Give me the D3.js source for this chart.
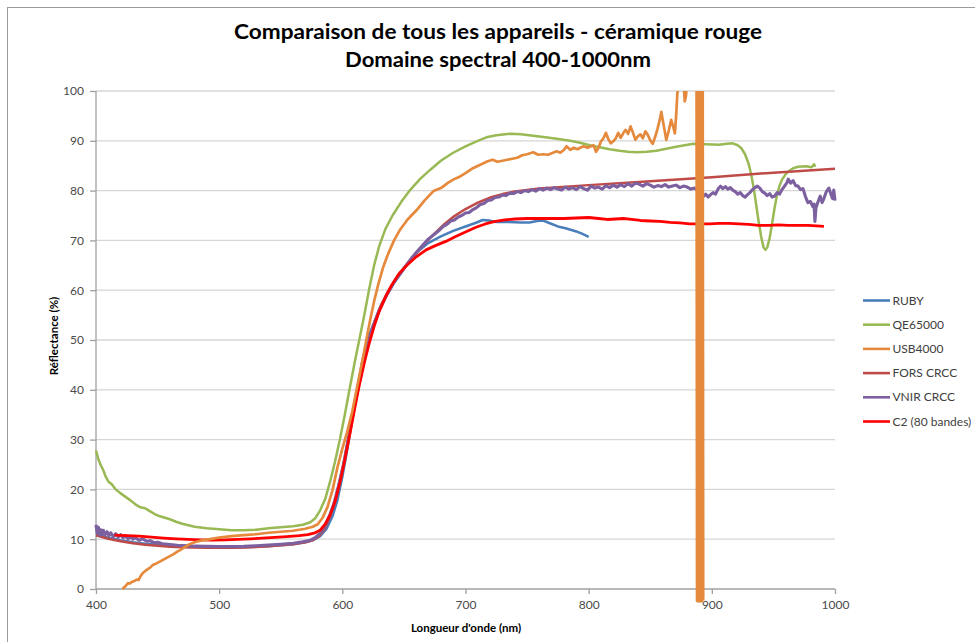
<!DOCTYPE html>
<html>
<head>
<meta charset="utf-8">
<script src="https://cdn.jsdelivr.net/npm/d3@7"></script>
<style>
  html, body { margin: 0; padding: 0; background: #ffffff; }
  svg { display: block; font-family: Lato, "Open Sans", "DejaVu Sans", sans-serif; }
</style>
</head>
<body>
<svg id="chart" width="975" height="642"></svg>
<script>
// Chart text
const titleLines = ["Comparaison de tous les appareils - céramique rouge", "Domaine spectral 400-1000nm"];
const xAxisTitle = "Longueur d'onde (nm)";
const yAxisTitle = "Réflectance (%)";
const xTicks = [400, 500, 600, 700, 800, 900, 1000];
const yTicks = [0, 10, 20, 30, 40, 50, 60, 70, 80, 90, 100];

// Series names and colours (legend order)
const seriesNames = ["RUBY", "QE65000", "USB4000", "FORS CRCC", "VNIR CRCC", "C2 (80 bandes)"];
const seriesColors = ["#4A7EBB", "#98B954", "#E5893C", "#BE4B48", "#7D60A0", "#FF0000"];

// Spectra: [wavelength nm, reflectance %]
const ruby = [[400,11.0],[410,10.3],[420,9.8],[430,9.4],[440,9.1],[450,8.9],[460,8.7],[470,8.6],[480,8.5],[490,8.45],[500,8.4],[510,8.4],[520,8.4],[530,8.5],[540,8.6],[550,8.8],[560,9.0],[570,9.4],[577,9.9],[582,10.6],[587,12.0],[592,14.6],[596,17.8],[600,22.5],[604,28],[608,34],[612,40],[616,45.5],[620,49.8],[625,53],[630,56],[636,59],[642,61.5],[650,64.3],[660,67.5],[670,69.5],[680,70.8],[690,71.9],[700,72.8],[708,73.5],[714,74.1],[719,74.0],[725,73.7],[735,73.7],[745,73.6],[752,73.6],[758,73.9],[763,74.0],[768,73.5],[775,72.8],[782,72.4],[790,71.8],[795,71.3],[800,70.7]];

const qe65000 = [[400,27.8],[402,26.0],[404,24.8],[406,23.8],[408,22.5],[410,21.6],[413,21.0],[416,20.0],[420,19.2],[424,18.5],[428,17.8],[432,17.0],[436,16.4],[440,16.2],[444,15.6],[448,15.0],[452,14.6],[456,14.3],[460,14.0],[465,13.5],[470,13.1],[475,12.8],[480,12.5],[490,12.2],[500,12.0],[510,11.8],[520,11.8],[530,11.9],[540,12.2],[550,12.4],[560,12.6],[568,12.9],[574,13.4],[578,14.2],[582,15.8],[586,18.0],[590,21.5],[594,25.5],[598,30.0],[602,35.0],[606,40.3],[610,45.5],[614,50.3],[618,55.2],[622,60.5],[626,65.2],[630,68.9],[635,72.3],[641,75.1],[648,77.8],[655,80.1],[663,82.3],[671,84.1],[680,86.0],[690,87.6],[700,88.9],[709,89.9],[717,90.7],[725,91.1],[736,91.4],[745,91.3],[755,91.0],[765,90.7],[774,90.4],[785,90.0],[793,89.6],[801,89.1],[809,88.7],[817,88.3],[825,88.0],[832,87.8],[839,87.7],[847,87.8],[855,88.0],[863,88.4],[871,88.8],[878,89.1],[885,89.4],[895,89.3],[906,89.2],[912,89.4],[917,89.5],[921,89.1],[924,88.5],[927,87.3],[930,85.3],[932,83.2],[934,80.5],[936,77.2],[938,73.8],[940,70.8],[942,68.6],[943.5,68.1],[945,68.6],[947,70.5],[949,73.5],[951,76.6],[953,79.2],[955,81.0],[957,82.2],[960,83.3],[963,84.0],[966,84.5],[970,84.8],[977,84.9],[981,84.7],[983,85.3],[984,84.8]];

const usb4000 = [[421.5,0.0],[424,0.6],[426,1.2],[427.5,1.1],[429,1.4],[431,1.6],[433,1.9],[434.5,1.8],[436,2.5],[438,3.2],[440,3.6],[442,4.0],[444,4.3],[446,4.8],[448,5.0],[451,5.4],[454,5.8],[457,6.2],[460,6.6],[463,7.0],[466,7.5],[469,7.9],[472,8.4],[476,9.0],[480,9.4],[485,9.7],[490,9.9],[495,10.1],[500,10.3],[510,10.6],[520,10.8],[530,11.0],[540,11.3],[550,11.5],[560,11.7],[570,12.1],[576,12.5],[580,13.0],[584,14.3],[588,16.5],[592,19.8],[596,24.4],[600,28.2],[604,31.6],[608,35.6],[611,39.3],[614,43.0],[617,46.8],[620,50.7],[623,54.5],[626,58],[629,61],[633,64.5],[637,67.2],[642,70.0],[647,72.2],[653,74.2],[660,76.0],[667,78.1],[674,79.9],[680,80.5],[686,81.6],[690,82.2],[696,82.9],[700,83.5],[706,84.5],[712,85.2],[718,85.9],[722,86.2],[726,85.8],[730,86.0],[734,86.2],[738,86.4],[742,86.6],[746,87.1],[750,87.3],[755,87.7],[759,87.2],[763,87.3],[767,87.2],[771,87.6],[774,87.9],[777,87.6],[780,88.2],[782,88.9],[785,88.2],[788,88.6],[791,88.3],[793,88.6],[796,88.9],[799,88.6],[802,88.9],[804,89.1],[806,87.8],[808,88.6],[810,89.9],[812,90.5],[814,91.6],[816,90.3],[818,89.5],[820,89.9],[822,90.5],[824,91.6],[826,90.6],[828,91.5],[830,92.2],[832,91.4],[834,92.9],[836,91.6],[838,90.2],[840,90.9],[842,91.3],[844,90.5],[846,91.9],[848,91.2],[850,90.1],[852,89.4],[854,90.8],[856,92.5],[858,94.5],[859,95.8],[861,93.0],[863,90.2],[865,92.0],[867,94.2],[869,92.5],[870,91.5],[871,95.0],[872,99.5],[873,101],[875,103],[877,102],[878,97.9],[879,99],[881,106],[884,112],[886,118],[887.5,130],[888,-2.4],[888.5,130],[889,-2.5],[889.5,130],[890,-2.4],[890.5,130],[891,-2.5],[891.5,130],[892,-2.4],[892.5,130],[893,-2.3]];

const forsCrcc = [[400,10.8],[410,10.1],[420,9.6],[430,9.2],[440,8.9],[450,8.7],[460,8.5],[470,8.4],[480,8.35],[490,8.3],[500,8.3],[510,8.3],[520,8.35],[530,8.45],[540,8.6],[550,8.8],[560,9.0],[570,9.4],[576,9.8],[581,10.6],[586,12.2],[590,14.5],[594,17.6],[598,21.8],[602,26.5],[606,31.8],[610,37.2],[614,42.3],[618,46.8],[622,50.5],[626,53.6],[631,56.8],[637,59.7],[644,62.5],[651,64.8],[659,67.2],[667,69.4],[675,71.4],[683,73.3],[691,74.9],[700,76.3],[710,77.6],[720,78.6],[730,79.3],[740,79.8],[750,80.1],[760,80.4],[800,81.1],[850,81.9],[900,82.7],[950,83.6],[1000,84.4]];

const vnirCrcc = [[400,12.9],[401,11.2],[402,12.4],[403,10.8],[404,11.9],[405,11.0],[406,11.8],[407.5,10.9],[409,11.5],[410.5,10.7],[412,11.3],[414,10.5],[416,11.1],[418,10.4],[420,10.9],[422,10.3],[424,10.7],[426,10.1],[428,10.5],[430,10.0],[432,10.3],[435,9.8],[438,10.1],[441,9.6],[444,9.7],[447,9.3],[450,9.4],[454,9.1],[458,9.0],[462,8.9],[466,8.8],[470,8.75],[475,8.7],[480,8.6],[490,8.55],[500,8.5],[510,8.5],[520,8.55],[530,8.7],[540,8.85],[550,9.0],[560,9.2],[568,9.5],[574,9.8],[578,10.3],[582,11.2],[586,12.6],[590,15.0],[593,17.0],[597,20.8],[601,25.0],[605,30.3],[609,35.5],[613,40.5],[617,45.3],[621,49.3],[625,52.7],[630,56.0],[636,59.0],[642,61.6],[649,64.0],[656,66.4],[663,68.4],[670,70.3],[675,71.3],[679,72.1],[682,72.8],[685,73.2],[688,73.9],[691,74.1],[694,74.7],[697,75.0],[700,75.5],[703,75.6],[706,76.2],[709,76.6],[712,77.2],[715,77.4],[718,78.0],[721,78.1],[724,78.6],[727,78.7],[730,79.1],[733,79.0],[736,79.5],[739,79.4],[742,79.8],[745,79.6],[748,80.0],[751,79.8],[754,80.2],[757,79.9],[760,80.4],[763,80.1],[766,80.5],[769,80.2],[772,80.6],[775,80.3],[778,80.1],[781,80.7],[784,80.3],[787,80.6],[790,80.2],[793,80.8],[796,80.4],[799,80.1],[802,80.9],[805,80.5],[808,80.7],[811,80.3],[814,81.0],[817,80.6],[820,81.1],[823,80.7],[826,81.2],[829,80.8],[832,81.4],[835,80.9],[838,81.5],[841,81.3],[844,80.9],[847,81.4],[850,81.1],[853,80.7],[856,81.0],[859,80.8],[862,81.2],[865,80.7],[868,80.9],[871,81.1],[874,80.6],[877,80.9],[880,80.7],[883,80.3],[886,80.5],[889,79.9],[891,79.2],[893,78.8],[895,79.3],[897,78.7],[899,79.2],[901,79.6],[903,79.3],[905,80.3],[907,80.9],[909,80.4],[911,80.8],[913,80.3],[915,80.6],[917,80.1],[919,79.8],[921,79.3],[923,79.6],[925,79.0],[927,78.7],[929,79.2],[931,79.6],[933,80.2],[935,80.6],[937,80.9],[939,80.5],[941,79.8],[943,79.5],[945,79.0],[947,79.4],[949,78.7],[951,78.9],[953,79.6],[955,79.3],[957,80.2],[959,80.9],[961,81.6],[962,82.3],[964,81.5],[966,82.0],[968,81.0],[970,80.9],[972,80.2],[974,80.4],[976,78.8],[978,77.6],[980,77.8],[982,76.8],[983,77.3],[983.7,73.8],[984.5,76.5],[986,77.6],[988,78.9],[989.5,77.6],[991,78.4],[993,79.8],[995,80.5],[996.5,79.4],[998,78.4],[999,80.1],[1000,78.0]];

const c2Bands = [[415,10.8],[425,10.7],[435,10.6],[445,10.4],[455,10.2],[465,10.05],[475,9.95],[485,9.85],[495,9.8],[505,9.85],[515,9.95],[525,10.05],[535,10.2],[545,10.35],[555,10.5],[565,10.7],[572,10.9],[577,11.2],[582,11.8],[586,13.0],[590,14.8],[594,17.5],[598,21.3],[602,25.9],[606,31.0],[610,36.2],[614,41.2],[618,45.6],[622,49.5],[626,52.9],[630,55.8],[635,58.6],[640,61.0],[646,63.3],[652,64.9],[660,66.7],[668,68.1],[676,69.0],[684,69.8],[692,70.8],[700,71.7],[708,72.6],[716,73.3],[724,73.8],[732,74.1],[740,74.3],[750,74.4],[760,74.4],[770,74.4],[780,74.4],[790,74.5],[800,74.6],[808,74.4],[815,74.2],[822,74.3],[828,74.4],[835,74.2],[842,74.0],[850,73.9],[858,73.8],[866,73.6],[874,73.5],[882,73.3],[890,73.3],[898,73.3],[906,73.4],[914,73.4],[922,73.3],[930,73.2],[938,73.0],[946,73.0],[954,73.1],[962,73.0],[970,73.0],[978,73.0],[985,72.9],[991,72.8]];

const seriesData = [ruby, qe65000, usb4000, forsCrcc, vnirCrcc, c2Bands];
// Drawing order: the USB4000 trace is painted last so its noisy tail sits on top
const drawOrder = [0, 1, 3, 4, 5, 2];
const lineWidths = [2.5, 2.5, 2.7, 2.5, 3.1, 2.8];

const svg = d3.select("#chart");
const W = 975, H = 642;
const plot = { left: 96, right: 835, top: 91, bottom: 589 };

svg.append("rect").attr("width", W).attr("height", H).attr("fill", "#ffffff");
// Outer chart frame
svg.append("rect")
  .attr("x", 7.5).attr("y", 7.5).attr("width", W + 10).attr("height", H + 10)
  .attr("fill", "none").attr("stroke", "#9a9a9a").attr("stroke-width", 1);

const x = d3.scaleLinear().domain([400, 1000]).range([plot.left, plot.right]);
const y = d3.scaleLinear().domain([0, 100]).range([plot.bottom, plot.top]);

// Horizontal gridlines
svg.append("g").selectAll("line")
  .data(yTicks.filter(t => t > 0))
  .join("line")
  .attr("x1", plot.left).attr("x2", plot.right)
  .attr("y1", d => y(d)).attr("y2", d => y(d))
  .attr("stroke", "#d6d6d6").attr("stroke-width", 1.3);

// Axes
const axisColor = "#a0a0a0";
const xAxis = svg.append("g")
  .attr("transform", `translate(0,${plot.bottom})`)
  .call(d3.axisBottom(x).tickValues(xTicks).tickSize(5).tickPadding(6).tickFormat(d3.format("d")));
const yAxis = svg.append("g")
  .attr("transform", `translate(${plot.left},0)`)
  .call(d3.axisLeft(y).tickValues(yTicks).tickSize(6).tickPadding(6).tickFormat(d3.format("d")));
[xAxis, yAxis].forEach(g => {
  g.select(".domain").attr("stroke", axisColor).attr("stroke-width", 1.3);
  g.selectAll(".tick line").attr("stroke", axisColor).attr("stroke-width", 1.3);
  g.selectAll(".tick text").attr("fill", "#4a4a4a").attr("font-size", 12)
    .attr("font-family", "Lato, 'Open Sans', sans-serif");
});
xAxis.select(".domain").attr("d", `M${plot.left},0H${plot.right}`);
yAxis.select(".domain").attr("d", `M0,${plot.bottom}V${plot.top}`);

// Clip for the traces
svg.append("clipPath").attr("id", "plotClip")
  .append("rect")
  .attr("x", plot.left - 4).attr("y", plot.top)
  .attr("width", plot.right - plot.left + 8).attr("height", plot.bottom - plot.top + 14);

const line = d3.line().x(d => x(d[0])).y(d => y(d[1]));
const traces = svg.append("g").attr("clip-path", "url(#plotClip)");
drawOrder.forEach(i => {
  traces.append("path")
    .datum(seriesData[i])
    .attr("d", line)
    .attr("fill", "none")
    .attr("stroke", seriesColors[i])
    .attr("stroke-width", lineWidths[i])
    .attr("stroke-linejoin", "round")
    .attr("stroke-linecap", "butt");
});

// Titles
const title = svg.append("g").attr("font-weight", "bold").attr("fill", "#000").attr("text-anchor", "middle");
title.append("text").attr("x", 498).attr("y", 39).attr("font-size", 20)
  .attr("textLength", 528).attr("lengthAdjust", "spacingAndGlyphs").text(titleLines[0]);
title.append("text").attr("x", 498).attr("y", 67).attr("font-size", 20)
  .attr("textLength", 306).attr("lengthAdjust", "spacingAndGlyphs").text(titleLines[1]);

svg.append("text")
  .attr("x", 466).attr("y", 632)
  .attr("text-anchor", "middle").attr("font-weight", "bold").attr("font-size", 11.5).attr("fill", "#000")
  .text(xAxisTitle);
svg.append("text")
  .attr("transform", "translate(58,336) rotate(-90)")
  .attr("text-anchor", "middle").attr("font-weight", "bold").attr("font-size", 11.5).attr("fill", "#000")
  .text(yAxisTitle);

// Legend
const legend = svg.append("g");
seriesNames.forEach((name, i) => {
  const ly = 300.5 + i * 24.2;
  legend.append("line")
    .attr("x1", 863).attr("x2", 890).attr("y1", ly).attr("y2", ly)
    .attr("stroke", seriesColors[i]).attr("stroke-width", 2.6);
  legend.append("text")
    .attr("x", 892.5).attr("y", ly + 4)
    .attr("font-size", 12).attr("fill", "#404040")
    .text(name);
});
</script>
</body>
</html>
